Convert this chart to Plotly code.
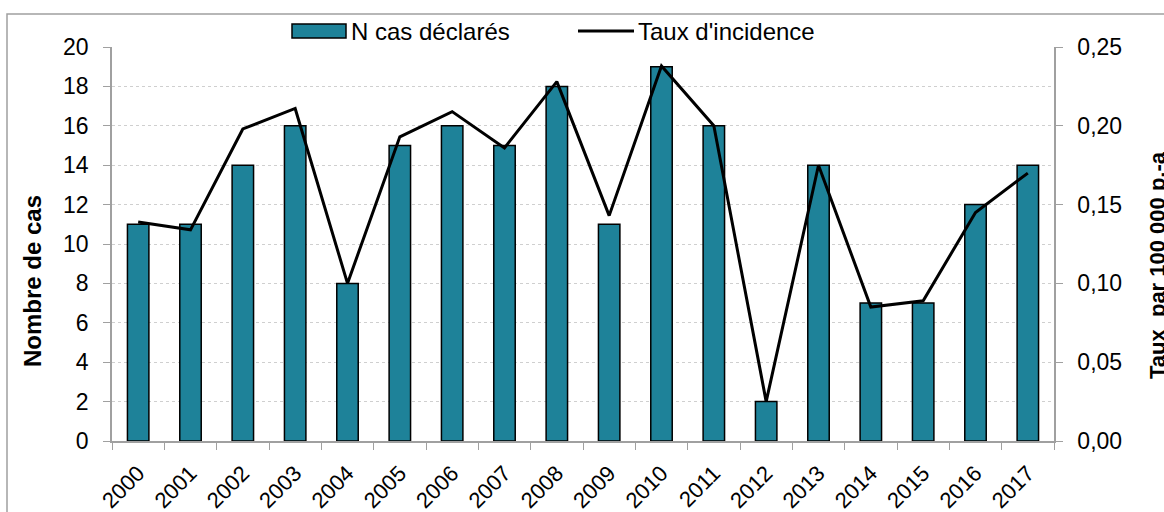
import plotly.graph_objects as go

annees = [str(a) for a in range(2000, 2018)]

n_cas = [11, 11, 14, 16, 8, 15, 16, 15, 18, 11, 19, 16, 2, 14, 7, 7, 12, 14]

taux_incidence = [0.139, 0.134, 0.198, 0.211, 0.100, 0.193, 0.209, 0.186, 0.228,
                  0.143, 0.238, 0.200, 0.025, 0.175, 0.085, 0.089, 0.145, 0.170]

police = 'Liberation Sans, Arial, sans-serif'
couleur_barres = '#1E8299'
gris = '#a0a0a0'

largeur, hauteur = 1164, 512
marge_g, marge_d, marge_h, marge_b = 112, 110, 47, 71

def px_x(px):
    return (px - marge_g) / (largeur - marge_g - marge_d)

def px_y(py):
    return (hauteur - marge_b - py) / (hauteur - marge_h - marge_b)

fig = go.Figure()

fig.add_trace(
    go.Bar(
        x = annees,
        y = n_cas,
        name = 'N cas déclarés',
        marker = dict(color = couleur_barres, line = dict(color = 'black', width = 1.5)),
        width = 0.41,
        yaxis = 'y'
    )
)

fig.add_trace(
    go.Scatter(
        x = annees,
        y = taux_incidence,
        name = "Taux d'incidence",
        mode = 'lines',
        line = dict(color = 'black', width = 3),
        yaxis = 'y2'
    )
)

fig.update_layout(
    width = largeur,
    height = hauteur,
    margin = dict(l = marge_g, r = marge_d, t = marge_h, b = marge_b, autoexpand = False),
    plot_bgcolor = 'white',
    paper_bgcolor = 'white',
    separators = ', ',
    font = dict(family = police, size = 23, color = 'black'),
    showlegend = False,
    xaxis = dict(
        type = 'category',
        tickangle = -45,
        tickson = 'boundaries',
        ticks = 'outside',
        ticklen = 7,
        tickcolor = gris,
        showline = True,
        linecolor = gris,
        linewidth = 1.5,
        showgrid = False,
        automargin = False,
        ticklabelstandoff = 9,
        tickfont = dict(size = 22)
    ),
    yaxis = dict(
        range = [0, 20],
        dtick = 2,
        ticks = 'outside',
        ticklen = 7,
        tickcolor = gris,
        showline = True,
        linecolor = gris,
        linewidth = 1.5,
        showgrid = True,
        gridcolor = '#cfcfcf',
        griddash = 'dot',
        zeroline = False,
        automargin = False,
        ticklabelstandoff = 10,
        tickfont = dict(size = 23)
    ),
    yaxis2 = dict(
        range = [0, 0.25],
        dtick = 0.05,
        tickformat = '.2f',
        overlaying = 'y',
        side = 'right',
        ticks = 'outside',
        ticklen = 7,
        tickcolor = gris,
        showline = True,
        linecolor = gris,
        linewidth = 1.5,
        showgrid = False,
        zeroline = False,
        automargin = False,
        ticklabelstandoff = 10,
        tickfont = dict(size = 23)
    )
)

# titres des axes
fig.add_annotation(
    text = '<b>Nombre de cas</b>',
    xref = 'paper', yref = 'paper',
    x = px_x(32), y = px_y(281),
    xanchor = 'center', yanchor = 'middle',
    textangle = -90,
    showarrow = False,
    font = dict(size = 24)
)

fig.add_annotation(
    text = '<b>Taux\u00a0 par 100 000 p.-a</b>',
    xref = 'paper', yref = 'paper',
    x = px_x(1157), y = px_y(265),
    xanchor = 'center', yanchor = 'middle',
    textangle = -90,
    showarrow = False,
    font = dict(size = 22)
)

# légende dessinée à la manière d'Excel
fig.add_shape(
    type = 'rect',
    xref = 'paper', yref = 'paper',
    x0 = px_x(292), x1 = px_x(346),
    y0 = px_y(38), y1 = px_y(24),
    fillcolor = couleur_barres,
    line = dict(color = 'black', width = 1.5)
)

fig.add_annotation(
    text = 'N cas déclarés',
    xref = 'paper', yref = 'paper',
    x = px_x(349), y = px_y(31),
    xanchor = 'left', yanchor = 'middle',
    showarrow = False,
    font = dict(size = 24)
)

fig.add_shape(
    type = 'line',
    xref = 'paper', yref = 'paper',
    x0 = px_x(578), x1 = px_x(634),
    y0 = px_y(31), y1 = px_y(31),
    line = dict(color = 'black', width = 3)
)

fig.add_annotation(
    text = "Taux d'incidence",
    xref = 'paper', yref = 'paper',
    x = px_x(636), y = px_y(31),
    xanchor = 'left', yanchor = 'middle',
    showarrow = False,
    font = dict(size = 24)
)

# cadre du graphique
fig.add_shape(
    type = 'rect',
    xref = 'paper', yref = 'paper',
    x0 = px_x(7), x1 = px_x(1300),
    y0 = px_y(700), y1 = px_y(14),
    line = dict(color = gris, width = 1.5),
    layer = 'below'
)

fig.write_html(
    'out.html',
    config = {'displayModeBar': False},
    post_script = "document.body.style.margin = '0';"
)
